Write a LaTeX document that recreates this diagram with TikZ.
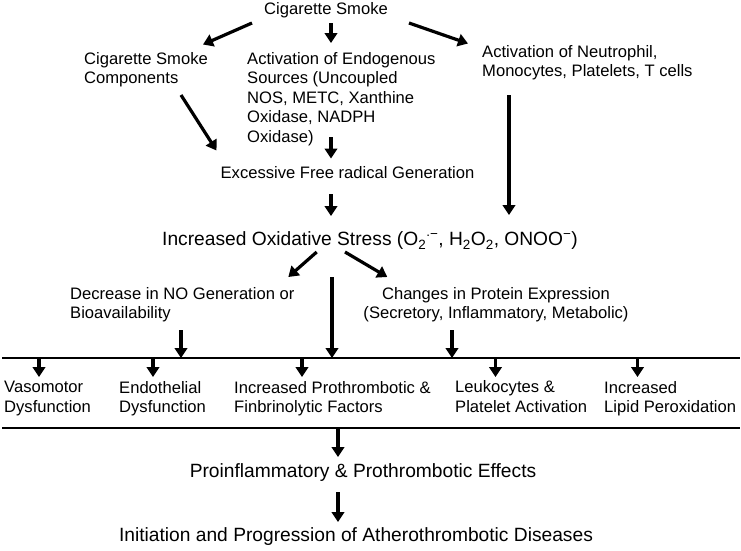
\documentclass[tikz,border=0pt]{standalone}
\usepackage{fontspec}
\setmainfont{Liberation Sans}
\usetikzlibrary{arrows.meta}
\begin{document}
\begin{tikzpicture}[x=1pt,y=-1pt,
  arr/.style={line width=3.2pt,-{Triangle[width=12.5pt,length=10pt]}},
  bus/.style={line width=2pt},
  sm/.style={inner sep=0pt,font=\fontsize{16.6}{19.4}\selectfont,align=left},
  lg/.style={inner sep=0pt,font=\fontsize{19.2}{23}\selectfont},
]
\useasboundingbox (0,0) rectangle (741,550);
% nodes
\node[sm] (cs) at (326,10) {Cigarette Smoke};
\node[sm,anchor=west] (csc) at (84,70) {Cigarette Smoke\\Components};
\node[sm,anchor=west] (aes) at (247,99) {Activation of Endogenous\\Sources (Uncoupled\\NOS, METC, Xanthine\\Oxidase, NADPH\\Oxidase)};
\node[sm,anchor=west] (an) at (482,62.5) {Activation of Neutrophil,\\Monocytes, Platelets, T cells};
\node[sm] (efr) at (347.5,172.5) {Excessive Free radical Generation};
\node[lg,anchor=west] (ios) at (162,241) {Increased Oxidative Stress (O\textsubscript{2}\textsuperscript{\raisebox{2pt}{.}−}, H\textsubscript{2}O\textsubscript{2}, ONOO\textsuperscript{−})};
\node[sm,anchor=west] (dno) at (70,304.5) {Decrease in NO Generation or\\Bioavailability};
\node[sm,align=center] (cpe) at (496,304.5) {Changes in Protein Expression\\(Secretory, Inflammatory, Metabolic)};
\node[sm,anchor=west] (vd) at (4,398.5) {Vasomotor\\Dysfunction};
\node[sm,anchor=west] (ed) at (119,398.5) {Endothelial\\Dysfunction};
\node[sm,anchor=west] (ipf) at (234,398.5) {Increased Prothrombotic \&\\Finbrinolytic Factors};
\node[sm,anchor=west] (lpa) at (455,396.5) {Leukocytes \&\\Platelet Activation};
\node[sm,anchor=west] (ilp) at (604,398.5) {Increased\\Lipid Peroxidation};
\node[lg] (pte) at (363,473) {Proinflammatory \& Prothrombotic Effects};
\node[lg] (ipa) at (356,537) {Initiation and Progression of Atherothrombotic Diseases};
% bus lines
\coordinate (b1l) at (2,358);
\coordinate (b1r) at (740,358);
\coordinate (b2l) at (2,428);
\coordinate (b2r) at (740,428);
\draw[bus] (b1l) -- (b1r);
\draw[bus] (b2l) -- (b2r);
% connectors
\draw[arr] ([shift={(-74,13)}]cs.center) -- ([shift={(119,-25.5)}]csc.west);
\draw[arr] ([shift={(5,13)}]cs.center) -- ([shift={(84,-56)}]aes.west);
\draw[arr] ([shift={(83,13)}]cs.center) -- ([shift={(-14,-19)}]an.west);
\draw[arr] ([shift={(97,25)}]csc.west) -- ([shift={(-131,-22)}]efr.center);
\draw[arr] ([shift={(84,38)}]aes.west) -- ([shift={(-16.5,-14)}]efr.center);
\draw[arr] ([shift={(27,32.5)}]an.west) -- ([shift={(347,-26)}]ios.west);
\draw[arr] ([shift={(-16.5,21.5)}]efr.center) -- ([shift={(169,-25)}]ios.west);
\draw[arr] ([shift={(154.7,11)}]ios.west) -- ([shift={(218.3,-27.5)}]dno.west);
\draw[arr] ([shift={(183,11)}]ios.west) -- ([shift={(-108.7,-27.5)}]cpe.center);
\draw[arr] ([shift={(170,36)}]ios.west) -- ([xshift=330pt]b1l);
\draw[arr] ([shift={(111,25.5)}]dno.west) -- ([xshift=179pt]b1l);
\draw[arr] ([shift={(-44,25.5)}]cpe.center) -- ([xshift=450pt]b1l);
\draw[arr] ([xshift=37pt]b1l) -- ([shift={(35,-21.5)}]vd.west);
\draw[arr] ([xshift=151pt]b1l) -- ([shift={(34,-21.5)}]ed.west);
\draw[arr] ([xshift=300pt]b1l) -- ([shift={(68,-21.5)}]ipf.west);
\draw[arr] ([xshift=493.5pt]b1l) -- ([shift={(40.5,-19.5)}]lpa.west);
\draw[arr] ([xshift=635.5pt]b1l) -- ([shift={(33.5,-21.5)}]ilp.west);
\draw[arr] ([xshift=336pt]b2l) -- ([shift={(-25,-16)}]pte.center);
\draw[arr] ([shift={(-25,19)}]pte.center) -- ([shift={(-18,-15)}]ipa.center);
\end{tikzpicture}
\end{document}
